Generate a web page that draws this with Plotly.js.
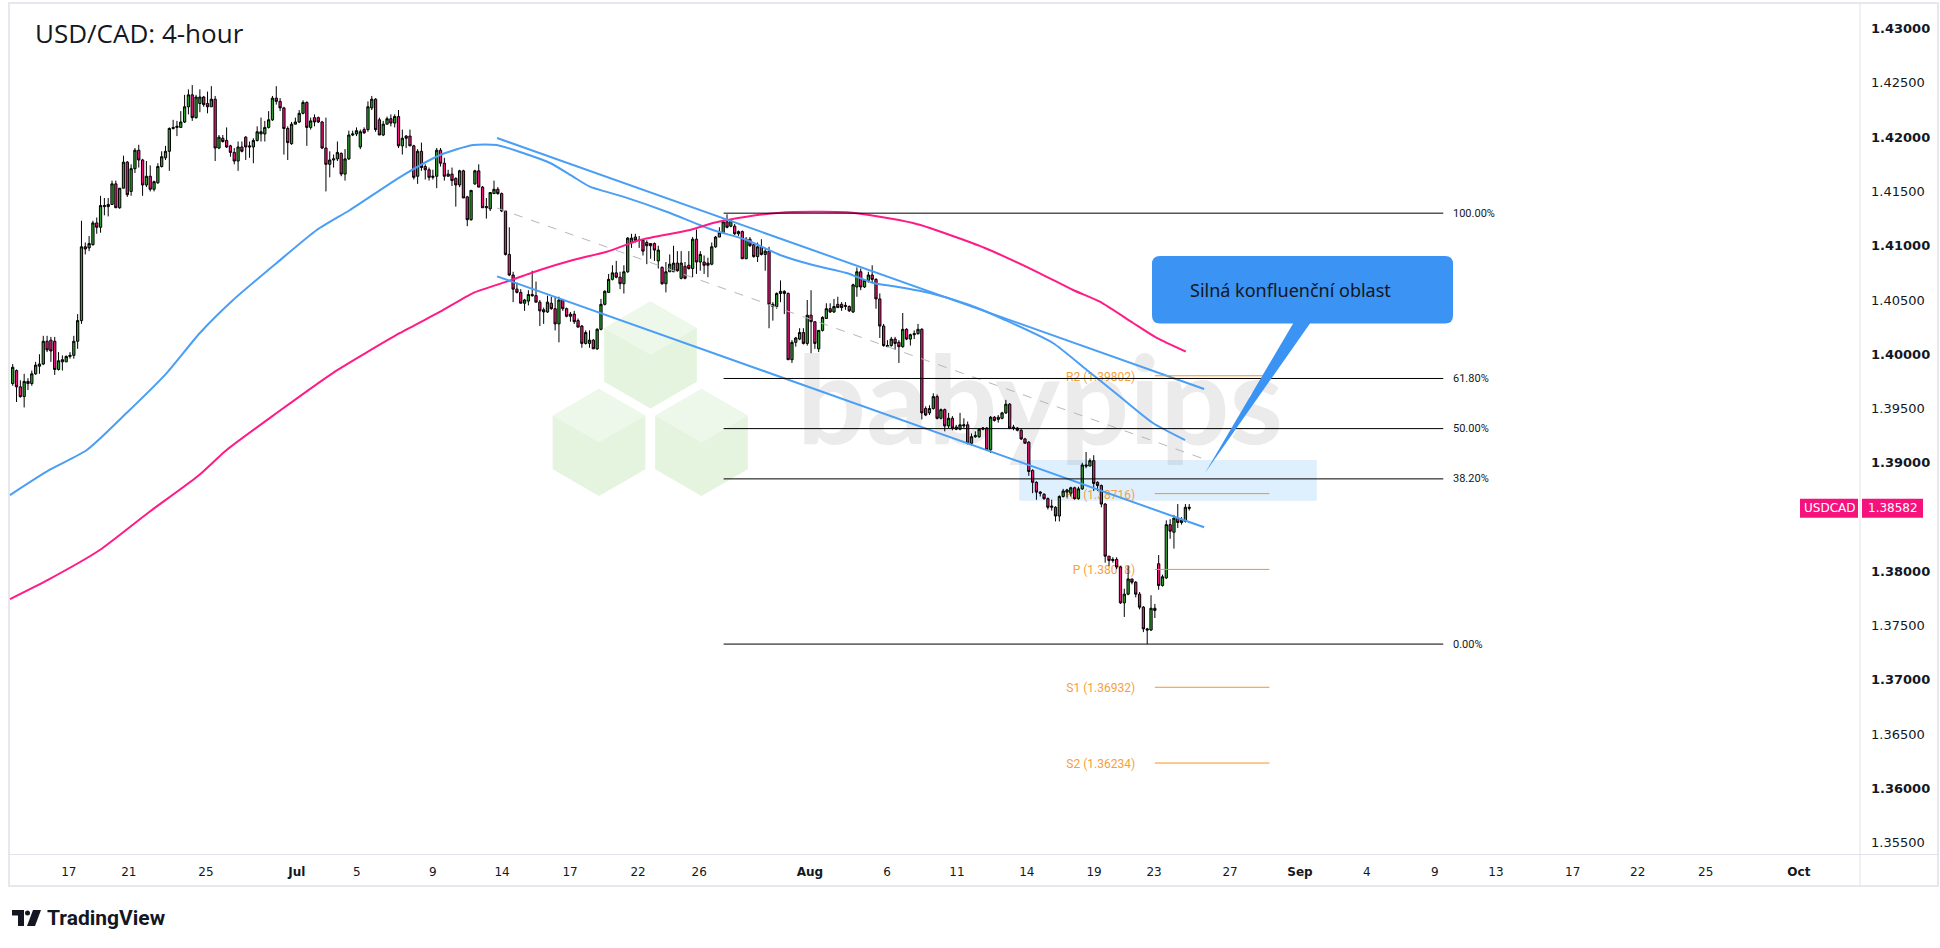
<!DOCTYPE html>
<html><head><meta charset="utf-8">
<script src="https://cdn.plot.ly/plotly-3.0.1.min.js"></script>
<style>html,body{margin:0;padding:0;background:#fff;}#chart{width:1940px;height:948px;}</style>
</head><body><div id="chart"></div>
<script>
// ---------- DATA ----------
const OPEN = [
1.3973,1.3985,1.3970,1.3961,1.3975,1.3973,1.3982,1.3989,1.3991,1.4012,
1.4013,1.4012,1.3986,1.3993,1.3993,1.3998,1.3999,1.4012,1.4031,1.4099,
1.4098,1.4101,1.4121,1.4117,1.4136,1.4136,1.4138,1.4157,1.4135,1.4153,
1.4177,1.4150,1.4171,1.4188,1.4179,1.4156,1.4164,1.4152,1.4158,1.4173,
1.4181,1.4187,1.4208,1.4209,1.4209,1.4214,1.4228,1.4239,1.4218,1.4231,
1.4237,1.4231,1.4228,1.4235,1.4190,1.4199,1.4197,1.4192,1.4186,1.4178,
1.4191,1.4200,1.4192,1.4191,1.4197,1.4203,1.4203,1.4209,1.4216,1.4236,
1.4233,1.4227,1.4208,1.4194,1.4212,1.4214,1.4222,1.4232,1.4209,1.4218,
1.4218,1.4214,1.4190,1.4175,1.4179,1.4180,1.4185,1.4166,1.4180,1.4202,
1.4203,1.4191,1.4207,1.4207,1.4227,1.4235,1.4216,1.4202,1.4212,1.4217,
1.4213,1.4219,1.4192,1.4201,1.4201,1.4192,1.4164,1.4187,1.4173,1.4170,
1.4163,1.4164,1.4188,1.4176,1.4164,1.4166,1.4162,1.4156,1.4169,1.4145,
1.4124,1.4157,1.4169,1.4154,1.4135,1.4134,1.4148,1.4152,1.4148,1.4132,
1.4092,1.4073,1.4060,1.4057,1.4047,1.4049,1.4055,1.4054,1.4048,1.4041,
1.4039,1.4047,1.4042,1.4028,1.4050,1.4042,1.4037,1.4037,1.4031,1.4026,
1.4010,1.4010,1.4013,1.4005,1.4023,1.4046,1.4057,1.4069,1.4075,1.4071,
1.4065,1.4076,1.4103,1.4108,1.4105,1.4105,1.4103,1.4102,1.4102,1.4086,
1.4080,1.4065,1.4076,1.4076,1.4084,1.4070,1.4081,1.4082,1.4079,1.4106,
1.4085,1.4085,1.4084,1.4083,1.4099,1.4108,1.4112,1.4122,1.4118,1.4118,
1.4111,1.4113,1.4088,1.4106,1.4101,1.4090,1.4099,1.4092,1.4095,1.4046,
1.4044,1.4056,1.4058,1.4056,1.3995,1.4011,1.4014,1.4020,1.4010,1.4036,
1.4030,1.4005,1.4022,1.4033,1.4042,1.4039,1.4046,1.4046,1.4044,1.4044,
1.4039,1.4062,1.4076,1.4062,1.4068,1.4073,1.4069,1.4051,1.4026,1.4007,
1.4008,1.4014,1.4011,1.4007,1.4023,1.4014,1.4018,1.4019,1.4023,1.3950,
1.3946,1.3950,1.3961,1.3941,1.3949,1.3934,1.3941,1.3933,1.3931,1.3934,
1.3935,1.3918,1.3924,1.3924,1.3931,1.3932,1.3912,1.3942,1.3940,1.3941,
1.3946,1.3954,1.3933,1.3932,1.3930,1.3922,1.3919,1.3893,1.3882,1.3873,
1.3871,1.3867,1.3859,1.3859,1.3851,1.3869,1.3873,1.3872,1.3877,1.3867,
1.3876,1.3898,1.3897,1.3902,1.3882,1.3879,1.3862,1.3814,1.3810,1.3811,
1.3804,1.3771,1.3779,1.3793,1.3790,1.3779,1.3767,1.3747,1.3746,1.3766,
1.3807,1.3787,1.3794,1.3843,1.3836,1.3849,1.3845,1.3846,1.3859];
const HIGH = [
1.3991,1.3986,1.3976,1.3982,1.3978,1.3985,1.3993,1.4000,1.4017,1.4017,
1.4016,1.4016,1.4002,1.3999,1.3999,1.4002,1.4017,1.4037,1.4123,1.4103,
1.4109,1.4123,1.4126,1.4146,1.4144,1.4144,1.4160,1.4160,1.4153,1.4183,
1.4178,1.4175,1.4190,1.4193,1.4180,1.4178,1.4174,1.4160,1.4176,1.4187,
1.4192,1.4209,1.4216,1.4215,1.4224,1.4239,1.4244,1.4248,1.4239,1.4244,
1.4238,1.4242,1.4247,1.4238,1.4202,1.4202,1.4209,1.4193,1.4190,1.4196,
1.4196,1.4201,1.4196,1.4199,1.4210,1.4218,1.4215,1.4224,1.4238,1.4247,
1.4236,1.4228,1.4210,1.4214,1.4218,1.4225,1.4234,1.4233,1.4218,1.4221,
1.4219,1.4215,1.4218,1.4187,1.4184,1.4196,1.4186,1.4189,1.4206,1.4206,
1.4209,1.4207,1.4209,1.4233,1.4238,1.4236,1.4218,1.4215,1.4219,1.4221,
1.4221,1.4225,1.4207,1.4202,1.4207,1.4193,1.4189,1.4195,1.4175,1.4172,
1.4170,1.4190,1.4190,1.4181,1.4170,1.4172,1.4163,1.4170,1.4170,1.4146,
1.4151,1.4170,1.4175,1.4155,1.4144,1.4149,1.4160,1.4154,1.4149,1.4132,
1.4117,1.4076,1.4066,1.4060,1.4051,1.4059,1.4077,1.4067,1.4050,1.4043,
1.4054,1.4053,1.4053,1.4053,1.4051,1.4043,1.4039,1.4040,1.4033,1.4027,
1.4022,1.4022,1.4014,1.4024,1.4051,1.4059,1.4074,1.4082,1.4086,1.4076,
1.4082,1.4108,1.4111,1.4111,1.4109,1.4106,1.4105,1.4102,1.4103,1.4100,
1.4081,1.4085,1.4092,1.4100,1.4095,1.4095,1.4085,1.4095,1.4108,1.4115,
1.4095,1.4091,1.4089,1.4103,1.4109,1.4117,1.4124,1.4129,1.4124,1.4120,
1.4114,1.4114,1.4108,1.4108,1.4102,1.4103,1.4106,1.4097,1.4099,1.4048,
1.4057,1.4068,1.4059,1.4057,1.4013,1.4016,1.4024,1.4024,1.4050,1.4059,
1.4030,1.4022,1.4035,1.4047,1.4047,1.4051,1.4053,1.4048,1.4048,1.4045,
1.4065,1.4080,1.4079,1.4069,1.4076,1.4082,1.4070,1.4056,1.4028,1.4013,
1.4016,1.4016,1.4013,1.4038,1.4024,1.4019,1.4022,1.4028,1.4024,1.3952,
1.3953,1.3964,1.3963,1.3950,1.3950,1.3946,1.3943,1.3935,1.3946,1.3941,
1.3938,1.3927,1.3929,1.3932,1.3933,1.3933,1.3943,1.3943,1.3944,1.3947,
1.3958,1.3955,1.3935,1.3933,1.3932,1.3923,1.3920,1.3894,1.3883,1.3874,
1.3872,1.3868,1.3866,1.3860,1.3870,1.3876,1.3876,1.3878,1.3878,1.3878,
1.3900,1.3910,1.3904,1.3907,1.3883,1.3880,1.3863,1.3814,1.3813,1.3813,
1.3805,1.3784,1.3805,1.3793,1.3791,1.3781,1.3768,1.3748,1.3778,1.3770,
1.3815,1.3797,1.3847,1.3848,1.3852,1.3862,1.3850,1.3862,1.3862];
const LOW = [
1.3971,1.3956,1.3960,1.3951,1.3967,1.3971,1.3981,1.3982,1.3990,1.4002,
1.3993,1.3981,1.3985,1.3985,1.3993,1.3996,1.3996,1.4005,1.4028,1.4092,
1.4095,1.4100,1.4111,1.4112,1.4128,1.4127,1.4138,1.4135,1.4134,1.4153,
1.4145,1.4146,1.4167,1.4172,1.4146,1.4154,1.4150,1.4150,1.4157,1.4172,
1.4179,1.4169,1.4207,1.4201,1.4209,1.4213,1.4221,1.4215,1.4217,1.4223,
1.4228,1.4222,1.4228,1.4178,1.4189,1.4195,1.4190,1.4182,1.4175,1.4169,
1.4186,1.4179,1.4181,1.4176,1.4196,1.4196,1.4196,1.4208,1.4215,1.4230,
1.4224,1.4184,1.4179,1.4193,1.4212,1.4213,1.4221,1.4192,1.4207,1.4210,
1.4213,1.4189,1.4150,1.4163,1.4172,1.4178,1.4164,1.4160,1.4179,1.4201,
1.4201,1.4189,1.4203,1.4205,1.4225,1.4205,1.4202,1.4201,1.4212,1.4210,
1.4209,1.4190,1.4184,1.4190,1.4192,1.4161,1.4157,1.4169,1.4161,1.4160,
1.4161,1.4153,1.4173,1.4160,1.4164,1.4155,1.4136,1.4154,1.4144,1.4118,
1.4123,1.4156,1.4154,1.4135,1.4125,1.4132,1.4148,1.4147,1.4131,1.4091,
1.4072,1.4048,1.4056,1.4047,1.4040,1.4045,1.4053,1.4048,1.4026,1.4028,
1.4038,1.4041,1.4022,1.4011,1.4040,1.4034,1.4030,1.4028,1.4025,1.4006,
1.4009,1.4006,1.4005,1.4004,1.4022,1.4045,1.4057,1.4068,1.4070,1.4060,
1.4056,1.4075,1.4098,1.4103,1.4098,1.4091,1.4083,1.4088,1.4086,1.4079,
1.4064,1.4057,1.4076,1.4076,1.4076,1.4069,1.4069,1.4078,1.4071,1.4074,
1.4077,1.4074,1.4071,1.4082,1.4098,1.4108,1.4111,1.4116,1.4117,1.4110,
1.4109,1.4088,1.4088,1.4099,1.4089,1.4085,1.4091,1.4077,1.4024,1.4031,
1.4042,1.4048,1.4037,1.3995,1.3992,1.4007,1.4013,1.4009,1.4008,1.4001,
1.4005,1.4002,1.4021,1.4033,1.4038,1.4038,1.4043,1.4040,1.4041,1.4039,
1.4038,1.4053,1.4059,1.4061,1.4066,1.4066,1.4042,1.4015,1.4007,1.4007,
1.4007,1.4004,1.3992,1.4006,1.4013,1.4008,1.4014,1.4018,1.3940,1.3943,
1.3944,1.3949,1.3940,1.3940,1.3929,1.3932,1.3930,1.3930,1.3930,1.3932,
1.3917,1.3916,1.3923,1.3923,1.3930,1.3911,1.3909,1.3938,1.3937,1.3940,
1.3945,1.3931,1.3930,1.3929,1.3921,1.3918,1.3888,1.3872,1.3866,1.3869,
1.3866,1.3857,1.3856,1.3846,1.3846,1.3868,1.3868,1.3869,1.3866,1.3866,
1.3875,1.3895,1.3897,1.3874,1.3874,1.3859,1.3808,1.3805,1.3808,1.3802,
1.3770,1.3758,1.3778,1.3788,1.3776,1.3765,1.3744,1.3733,1.3745,1.3757,
1.3783,1.3786,1.3793,1.3830,1.3821,1.3840,1.3843,1.3845,1.3856];
const CLOSE = [
1.3988,1.3970,1.3961,1.3975,1.3973,1.3982,1.3990,1.3991,1.4012,1.4004,
1.4003,1.3986,1.3994,1.3995,1.3998,1.3999,1.4012,1.4031,1.4099,1.4097,
1.4102,1.4121,1.4117,1.4137,1.4137,1.4138,1.4157,1.4135,1.4153,1.4177,
1.4147,1.4171,1.4188,1.4179,1.4156,1.4164,1.4152,1.4159,1.4173,1.4182,
1.4187,1.4208,1.4209,1.4210,1.4214,1.4228,1.4239,1.4218,1.4237,1.4237,
1.4230,1.4228,1.4235,1.4190,1.4200,1.4196,1.4191,1.4186,1.4178,1.4191,
1.4187,1.4191,1.4191,1.4197,1.4205,1.4205,1.4209,1.4216,1.4236,1.4233,
1.4227,1.4208,1.4195,1.4212,1.4214,1.4222,1.4232,1.4209,1.4215,1.4214,
1.4214,1.4190,1.4175,1.4179,1.4180,1.4186,1.4166,1.4180,1.4202,1.4203,
1.4206,1.4205,1.4204,1.4228,1.4235,1.4207,1.4202,1.4212,1.4217,1.4213,
1.4219,1.4192,1.4199,1.4199,1.4192,1.4163,1.4187,1.4172,1.4170,1.4163,
1.4164,1.4188,1.4176,1.4164,1.4166,1.4160,1.4156,1.4169,1.4144,1.4124,
1.4151,1.4169,1.4154,1.4135,1.4136,1.4149,1.4152,1.4148,1.4132,1.4092,
1.4073,1.4060,1.4057,1.4047,1.4050,1.4055,1.4054,1.4048,1.4040,1.4039,
1.4048,1.4042,1.4028,1.4050,1.4042,1.4035,1.4035,1.4030,1.4025,1.4010,
1.4020,1.4013,1.4005,1.4023,1.4046,1.4058,1.4069,1.4075,1.4071,1.4065,
1.4076,1.4107,1.4107,1.4105,1.4105,1.4095,1.4100,1.4100,1.4096,1.4096,
1.4065,1.4076,1.4083,1.4084,1.4077,1.4084,1.4070,1.4079,1.4106,1.4085,
1.4092,1.4082,1.4082,1.4099,1.4108,1.4112,1.4122,1.4117,1.4123,1.4111,
1.4113,1.4088,1.4106,1.4100,1.4090,1.4099,1.4092,1.4095,1.4046,1.4044,
1.4056,1.4058,1.4056,1.3995,1.4011,1.4015,1.4020,1.4010,1.4036,1.4030,
1.4010,1.4022,1.4034,1.4042,1.4039,1.4044,1.4043,1.4043,1.4045,1.4040,
1.4064,1.4076,1.4062,1.4068,1.4073,1.4069,1.4051,1.4026,1.4008,1.4008,
1.4014,1.4010,1.4007,1.4023,1.4014,1.4018,1.4019,1.4023,1.3946,1.3944,
1.3950,1.3961,1.3941,1.3949,1.3934,1.3941,1.3932,1.3931,1.3935,1.3935,
1.3918,1.3924,1.3925,1.3931,1.3932,1.3912,1.3942,1.3939,1.3942,1.3946,
1.3954,1.3932,1.3932,1.3930,1.3922,1.3918,1.3892,1.3882,1.3873,1.3872,
1.3867,1.3859,1.3860,1.3851,1.3869,1.3874,1.3875,1.3877,1.3867,1.3876,
1.3898,1.3897,1.3902,1.3881,1.3879,1.3862,1.3814,1.3810,1.3811,1.3804,
1.3771,1.3779,1.3793,1.3790,1.3779,1.3767,1.3747,1.3746,1.3766,1.3764,
1.3787,1.3795,1.3843,1.3837,1.3849,1.3845,1.3847,1.3859,1.38582];

// moving averages (bar position, value)
const MA100_X = [-0.7,9.6,19.4,29.8,40.3,49.0,57.7,69.1,79.6,88.3,101.4,111.9,120.5,126.7,133.6,140.7,146.7,151.1,159.8,171.2,183.3,192.1,200.9,209.5,218.3,225.2,231.4,240.1,250.5,259.8,272.3,281.2,289.9,298.5,306.9];
const MA100_Y = [1.38703,1.38934,1.39118,1.39459,1.39827,1.40196,1.40500,1.40841,1.41145,1.41329,1.41633,1.41836,1.41928,1.41928,1.41854,1.41762,1.41636,1.41544,1.41452,1.41313,1.41145,1.41053,1.40915,1.40822,1.40749,1.40657,1.40622,1.40564,1.40454,1.40316,1.40104,1.39855,1.39609,1.39367,1.39210];
const MA200_X = [-0.7,9.6,22.6,35.4,48.5,56.0,69.1,83.8,101.4,111.9,120.5,129.3,138.0,146.7,155.5,164.2,177.3,183.3,192.1,200.9,209.5,218.3,227.0,235.7,240.1,254.5,268.9,277.6,284.6,293.3,299.5,307.1];
const MA200_Y = [1.37745,1.37929,1.38192,1.38538,1.38878,1.39118,1.39459,1.39827,1.40196,1.40392,1.40564,1.40669,1.40776,1.40868,1.40945,1.41053,1.41145,1.41209,1.41267,1.41304,1.41313,1.41308,1.41267,1.41209,1.41163,1.40979,1.40746,1.40592,1.40484,1.40288,1.40150,1.40024];

// axes
const X_TICK_POS  = [14.7,30.4,50.6,74.4,90.1,110.0,128.1,145.9,163.7,179.7,208.7,228.9,247.2,265.5,283.1,298.8,318.7,337.0,354.5,372.3,388.3,408.4,425.4,443.2,467.6];
const X_TICK_TEXT = ['17','21','25','<b>Jul</b>','5','9','14','17','22','26','<b>Aug</b>','6','11','14','19','23','27','<b>Sep</b>','4','9','13','17','22','25','<b>Oct</b>'];
// 1.38500 sits under the last-price label in the reference, so it is left out
const Y_TICK_VALS = [1.355,1.360,1.365,1.370,1.375,1.380,1.390,1.395,1.400,1.405,1.410,1.415,1.420,1.425,1.430];
const Y_TICK_TEXT = ['1.35500','<b>1.36000</b>','1.36500','<b>1.37000</b>','1.37500','<b>1.38000</b>','<b>1.39000</b>','1.39500','<b>1.40000</b>','1.40500','<b>1.41000</b>','1.41500','<b>1.42000</b>','1.42500','<b>1.43000</b>'];
const X_RANGE = [-0.97, 483.6];
const Y_RANGE = [1.35396, 1.43227];

// drawings
const FIB_LEVELS = [1.4130,1.39777,1.39315,1.38852,1.3733];
const FIB_LABELS = ['100.00%','61.80%','50.00%','38.20%','0.00%'];
const FIB_X = [186.1, 374.5];
const FIB_LABEL_X = 376.4;
const PIVOT_NAMES  = ['R2','R1','P','S1','S2'];
const PIVOT_LEVELS = [1.39802,1.38716,1.38018,1.36932,1.36234];
const PIVOT_X = [299.0, 329.0];
const PIVOT_LABEL_X = [268.9, 295.4];
const CHANNEL_X = [126.8, 311.9];
const CHANNEL_UPPER = [1.41992, 1.39680];
const CHANNEL_MID   = [1.41347, 1.39035];
const CHANNEL_LOWER = [1.40718, 1.38406];
const ZONE_X = [263.5, 341.4];
const ZONE_Y = [1.38651, 1.39026];
const SYMBOL = 'USDCAD';
const LAST_PRICE = CLOSE[CLOSE.length-1];
const TITLE = 'USD/CAD: 4-hour';
const CALLOUT = 'Silná konfluenční oblast';

// ---------- helpers for decoration placement (pixel -> paper) ----------
const PL=9, PR=1860, PT=4, PB=854;
const PX = p => (p-PL)/(PR-PL);
const PY = p => (PB-p)/(PB-PT);
const pt = (x,y) => PX(x).toFixed(5)+','+PY(y).toFixed(5);
function hexPath(cx,cy,r){const w=r*Math.sqrt(3)/2;return 'M'+pt(cx,cy-r)+' L'+pt(cx+w,cy-r/2)+' L'+pt(cx+w,cy+r/2)+' L'+pt(cx,cy+r)+' L'+pt(cx-w,cy+r/2)+' L'+pt(cx-w,cy-r/2)+' Z';}
function topFace(cx,cy,r){const w=r*Math.sqrt(3)/2;return 'M'+pt(cx,cy-r)+' L'+pt(cx+w,cy-r/2)+' L'+pt(cx,cy)+' L'+pt(cx-w,cy-r/2)+' Z';}
function roundRect(x0,y0,x1,y1,r){return 'M'+pt(x0+r,y0)+' L'+pt(x1-r,y0)+' Q'+pt(x1,y0)+' '+pt(x1,y0+r)+' L'+pt(x1,y1-r)+' Q'+pt(x1,y1)+' '+pt(x1-r,y1)+' L'+pt(x0+r,y1)+' Q'+pt(x0,y1)+' '+pt(x0,y1-r)+' L'+pt(x0,y0+r)+' Q'+pt(x0,y0)+' '+pt(x0+r,y0)+' Z';}

const IDX = OPEN.map((_,i)=>i);

const traces = [
 {type:'candlestick', x:IDX, open:OPEN, high:HIGH, low:LOW, close:CLOSE,
  increasing:{line:{color:'#000000',width:1}, fillcolor:'#2e9f2e'},
  decreasing:{line:{color:'#000000',width:1}, fillcolor:'#f0157c'},
  whiskerwidth:0, showlegend:false, hoverinfo:'skip'},
 {type:'scatter', mode:'lines', x:MA100_X, y:MA100_Y, line:{color:'#4a9ef5',width:2,shape:'spline',smoothing:0.6}, showlegend:false, hoverinfo:'skip'},
 {type:'scatter', mode:'lines', x:MA200_X, y:MA200_Y, line:{color:'#ff1b86',width:2,shape:'spline',smoothing:0.6}, showlegend:false, hoverinfo:'skip'}
];

const shapes = [];
// frame
shapes.push({type:'rect',xref:'paper',yref:'paper',x0:PX(9),x1:PX(1938),y0:PY(886),y1:PY(3),line:{color:'#e6e8ee',width:2},fillcolor:'rgba(0,0,0,0)',layer:'below'});
shapes.push({type:'line',xref:'paper',yref:'paper',x0:PX(1860),x1:PX(1860),y0:PY(886),y1:PY(3),line:{color:'#e0e3eb',width:1}});
shapes.push({type:'line',xref:'paper',yref:'paper',x0:PX(9),x1:PX(1938),y0:PY(854.5),y1:PY(854.5),line:{color:'#e0e3eb',width:1}});
// watermark
[[650.5,355],[599,442.5],[701.5,442.5]].forEach(c=>{
  shapes.push({type:'path',xref:'paper',yref:'paper',path:hexPath(c[0],c[1],53.5),fillcolor:'#e4f4df',line:{width:0},layer:'below'});
  shapes.push({type:'path',xref:'paper',yref:'paper',path:topFace(c[0],c[1],53.5),fillcolor:'#edf8ea',line:{width:0},layer:'below'});
});
shapes.push({type:'rect',xref:'paper',yref:'paper',x0:PX(780),x1:PX(1300),y0:PY(455),y1:PY(335),line:{width:0},fillcolor:'rgba(0,0,0,0)',layer:'below',
  label:{text:'babypips',textposition:'middle center',font:{family:'Lato',size:122,weight:700,color:'#ebebeb'}}});
// zone
shapes.push({type:'rect',xref:'x',yref:'y',x0:ZONE_X[0],x1:ZONE_X[1],y0:ZONE_Y[0],y1:ZONE_Y[1],fillcolor:'rgba(33,150,243,0.15)',line:{width:0},layer:'below'});
// pivot labels (behind candles)
PIVOT_NAMES.forEach((n,i)=>{
  shapes.push({type:'rect',xref:'x',yref:'y',x0:PIVOT_LABEL_X[0],x1:PIVOT_LABEL_X[1],y0:PIVOT_LEVELS[i]-0.0006,y1:PIVOT_LEVELS[i]+0.0006,line:{width:0},fillcolor:'rgba(0,0,0,0)',layer:'below',
   label:{text:n+' ('+PIVOT_LEVELS[i].toFixed(5)+')',textposition:'middle right',font:{family:'Roboto',size:12,color:'#f6a03c'}}});
});
// channel
shapes.push({type:'line',xref:'x',yref:'y',x0:CHANNEL_X[0],x1:CHANNEL_X[1],y0:CHANNEL_UPPER[0],y1:CHANNEL_UPPER[1],line:{color:'#4a9ef5',width:2}});
shapes.push({type:'line',xref:'x',yref:'y',x0:CHANNEL_X[0],x1:CHANNEL_X[1],y0:CHANNEL_MID[0],y1:CHANNEL_MID[1],line:{color:'#b4b7bf',width:1,dash:'dash'}});
shapes.push({type:'line',xref:'x',yref:'y',x0:CHANNEL_X[0],x1:CHANNEL_X[1],y0:CHANNEL_LOWER[0],y1:CHANNEL_LOWER[1],line:{color:'#4a9ef5',width:2}});
// fib
FIB_LEVELS.forEach(v=>shapes.push({type:'line',xref:'x',yref:'y',x0:FIB_X[0],x1:FIB_X[1],y0:v,y1:v,line:{color:'#000000',width:1}}));
// pivots
PIVOT_LEVELS.forEach(v=>shapes.push({type:'line',xref:'x',yref:'y',x0:PIVOT_X[0],x1:PIVOT_X[1],y0:v,y1:v,line:{color:'#f7941d',width:1}}));
// callout
shapes.push({type:'path',xref:'paper',yref:'paper',path:'M'+pt(1294,322)+' L'+pt(1311,322)+' L'+pt(1205,473)+' Z',fillcolor:'#3b93f3',line:{width:0}});
shapes.push({type:'path',xref:'paper',yref:'paper',path:roundRect(1152,256,1453,323.5,8),fillcolor:'#3b93f3',line:{width:0}});
// last price label
shapes.push({type:'rect',xref:'paper',yref:'y',x0:PX(1800),x1:PX(1858),y0:LAST_PRICE-0.00088,y1:LAST_PRICE+0.00088,fillcolor:'#f5127c',line:{width:0}});
shapes.push({type:'rect',xref:'paper',yref:'y',x0:PX(1862),x1:PX(1923),y0:LAST_PRICE-0.00088,y1:LAST_PRICE+0.00088,fillcolor:'#f5127c',line:{width:0}});
// TradingView logo glyph
shapes.push({type:'path',xref:'paper',yref:'paper',path:'M'+pt(12,910)+' L'+pt(24,910)+' L'+pt(24,926)+' L'+pt(18,926)+' L'+pt(18,915.5)+' L'+pt(12,915.5)+' Z',fillcolor:'#131722',line:{width:0}});
shapes.push({type:'circle',xref:'paper',yref:'paper',x0:PX(25),x1:PX(30),y0:PY(915.5),y1:PY(910.5),fillcolor:'#131722',line:{width:0}});
shapes.push({type:'path',xref:'paper',yref:'paper',path:'M'+pt(33,910)+' L'+pt(41,910)+' L'+pt(35,926)+' L'+pt(27,926)+' Z',fillcolor:'#131722',line:{width:0}});

const annotations = [];
annotations.push({xref:'paper',yref:'paper',x:PX(33),y:PY(33),xanchor:'left',yanchor:'middle',showarrow:false,text:TITLE,font:{family:'Open Sans',size:26,color:'#131722'}});
FIB_LEVELS.forEach((v,i)=>annotations.push({xref:'x',yref:'y',x:FIB_LABEL_X,y:v,xanchor:'left',yanchor:'middle',showarrow:false,text:FIB_LABELS[i],font:{family:'Roboto',size:11,color:'#131722'}}));
annotations.push({xref:'paper',yref:'paper',x:PX(1188),y:PY(290),xanchor:'left',yanchor:'middle',showarrow:false,text:CALLOUT,font:{family:'Noto Sans',size:18,color:'#131722'}});
annotations.push({xref:'paper',yref:'y',x:PX(1829),y:LAST_PRICE,xanchor:'center',yanchor:'middle',showarrow:false,text:SYMBOL,font:{family:'DejaVu Sans',size:12,color:'#ffffff'}});
annotations.push({xref:'paper',yref:'y',x:PX(1892.5),y:LAST_PRICE,xanchor:'center',yanchor:'middle',showarrow:false,text:LAST_PRICE.toFixed(5),font:{family:'DejaVu Sans',size:12,color:'#ffffff'}});
annotations.push({xref:'paper',yref:'paper',x:PX(45),y:PY(918),xanchor:'left',yanchor:'middle',showarrow:false,text:'<b>TradingView</b>',font:{family:'Roboto',size:21,color:'#131722'}});

const layout = {
  width:1940, height:948,
  margin:{l:PL, r:1940-PR, t:PT, b:948-PB},
  paper_bgcolor:'#ffffff', plot_bgcolor:'#ffffff',
  showlegend:false, hovermode:false, dragmode:false,
  boxgap:0.15,
  font:{family:'DejaVu Sans', color:'#131722'},
  xaxis:{range:X_RANGE, tickmode:'array', tickvals:X_TICK_POS, ticktext:X_TICK_TEXT, showgrid:false, zeroline:false, showline:false,
         ticks:'', ticklabelstandoff:9, tickfont:{size:12,color:'#131722',family:'DejaVu Sans'}, rangeslider:{visible:false}, fixedrange:true},
  yaxis:{range:Y_RANGE, side:'right', tickmode:'array', tickvals:Y_TICK_VALS, ticktext:Y_TICK_TEXT, showgrid:false, zeroline:false, showline:false,
         ticks:'', ticklabelstandoff:10, tickfont:{size:13,color:'#131722',family:'DejaVu Sans'}, fixedrange:true},
  shapes:shapes, annotations:annotations
};
Plotly.newPlot('chart', traces, layout, {staticPlot:true, displayModeBar:false});
</script></body></html>
